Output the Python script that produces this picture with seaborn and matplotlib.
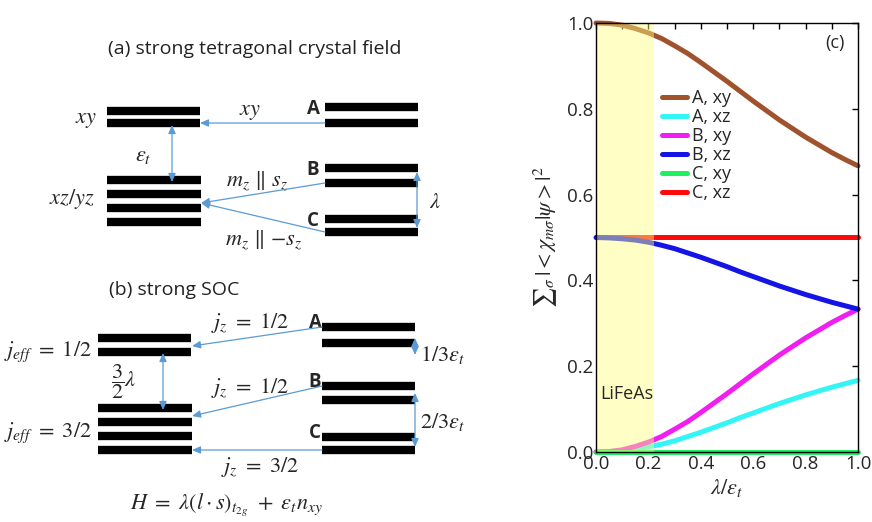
import matplotlib
matplotlib.use('Agg')
import matplotlib.pyplot as plt
import seaborn as sns
import pandas as pd
from matplotlib.ticker import MultipleLocator

# ---------------- data ----------------
lam = [0.0, 0.05, 0.1, 0.15, 0.2, 0.25, 0.3, 0.35, 0.4, 0.45, 0.5,
       0.55, 0.6, 0.65, 0.7, 0.75, 0.8, 0.85, 0.9, 0.95, 1.0]
a_xy = [1.000, 0.999, 0.995, 0.987, 0.977, 0.964, 0.947, 0.929, 0.908, 0.886, 0.864,
        0.841, 0.818, 0.796, 0.774, 0.754, 0.734, 0.716, 0.698, 0.682, 0.667]
a_xz = [0.000, 0.001, 0.003, 0.006, 0.012, 0.018, 0.026, 0.036, 0.046, 0.057, 0.068,
        0.080, 0.091, 0.102, 0.113, 0.123, 0.133, 0.142, 0.151, 0.159, 0.167]
b_xy = [0.000, 0.001, 0.005, 0.013, 0.023, 0.036, 0.053, 0.071, 0.092, 0.114, 0.136,
        0.159, 0.182, 0.204, 0.226, 0.246, 0.266, 0.284, 0.302, 0.318, 0.333]
b_xz = [0.500, 0.499, 0.497, 0.494, 0.489, 0.482, 0.474, 0.464, 0.454, 0.443, 0.432,
        0.420, 0.409, 0.398, 0.387, 0.377, 0.367, 0.358, 0.349, 0.341, 0.333]
c_xy = [0.0, 0.0, 0.0, 0.0, 0.0, 0.0, 0.0, 0.0, 0.0, 0.0, 0.0,
        0.0, 0.0, 0.0, 0.0, 0.0, 0.0, 0.0, 0.0, 0.0, 0.0]
c_xz = [0.5, 0.5, 0.5, 0.5, 0.5, 0.5, 0.5, 0.5, 0.5, 0.5, 0.5,
        0.5, 0.5, 0.5, 0.5, 0.5, 0.5, 0.5, 0.5, 0.5, 0.5]
series_names = ['A, xy', 'A, xz', 'B, xy', 'B, xz', 'C, xy', 'C, xz']
series_vals = [a_xy, a_xz, b_xy, b_xz, c_xy, c_xz]
series_colors = ['#a0522d', '#33f5f5', '#f01ef0', '#1414e6', '#1ef060', '#ff0a0a']
series_z = [3, 3, 3, 4, 3, 2]
lifeas_span = [0.0, 0.22]
x_ticks = [0.0, 0.2, 0.4, 0.6, 0.8, 1.0]
y_ticks = [0.0, 0.2, 0.4, 0.6, 0.8, 1.0]
tick_labels = ['0.0', '0.2', '0.4', '0.6', '0.8', '1.0']

# ---------------- schematic geometry (pixel coordinates) ----------------
a_left_top = [111, 123]
a_left_bot = [180, 194, 208, 222]
a_right = {'A': [107, 123], 'B': [168, 183], 'C': [219, 232]}
b_left_top = [338, 352]
b_left_bot = [408, 422, 436, 450]
b_right = {'A': [327, 343], 'B': [386, 400], 'C': [437, 450]}

sns.set_theme(style='white')
plt.rcParams['font.family'] = ['Open Sans', 'DejaVu Sans']
plt.rcParams['mathtext.fontset'] = 'stix'

fig = plt.figure(figsize=(8.72, 5.22), dpi=100)

# ---------- schematic ----------
ax0 = fig.add_axes([0, 0, 1, 1])
ax0.set_xlim(0, 872)
ax0.set_ylim(522, 0)
ax0.axis('off')
ax0.patch.set_visible(False)

BAR = 6.0
ac = '#5b9bd5'
MF = 16  # math font size
LF = 13.5  # bold letter size

def bars(ys, x0, x1):
    ax0.hlines(ys, x0, x1, colors='black', linewidth=BAR)

def arrow(p_from, p_to, double=False):
    ax0.annotate('', xy=p_to, xytext=p_from,
                 arrowprops=dict(arrowstyle=('<|-|>' if double else '-|>') + ',head_length=0.5,head_width=0.22',
                                 color=ac, lw=0.9, shrinkA=0, shrinkB=0, mutation_scale=10))

# panel (a)
ax0.text(255, 49, '(a) strong tetragonal crystal field', ha='center', va='center', fontsize=14, color='#222222')
bars(a_left_top, 107, 200)
bars(a_left_bot, 107, 201)
for k, ys in a_right.items():
    bars(ys, 325, 418)
    ax0.text(313, ys[0] + 2, k, ha='center', va='center', fontsize=LF, fontweight='bold')
ax0.text(86, 119, '$xy$', ha='center', va='center', fontsize=MF)
ax0.text(250, 112, '$xy$', ha='center', va='center', fontsize=MF)
ax0.text(143, 156, r'$\epsilon_t$', ha='center', va='center', fontsize=MF)
ax0.text(72, 199, '$xz/yz$', ha='center', va='center', fontsize=MF)
ax0.text(257, 181, r'$m_z\ \Vert\ s_z$', ha='center', va='center', fontsize=MF)
ax0.text(264, 240, r'$m_z\ \Vert\ {-s_z}$', ha='center', va='center', fontsize=MF)
ax0.text(435, 202, r'$\lambda$', ha='center', va='center', fontsize=MF)
arrow((325, 123), (200, 123))
arrow((172, 125), (172, 182), double=True)
arrow((325, 183), (201, 203))
arrow((325, 232), (201, 203))
arrow((417, 172), (417, 228), double=True)

# panel (b)
ax0.text(174, 290, '(b) strong SOC', ha='center', va='center', fontsize=14, color='#222222')
bars(b_left_top, 98, 191)
bars(b_left_bot, 98, 192)
for k, ys in b_right.items():
    bars(ys, 322, 415)
    ax0.text(315, ys[0] - 4, k, ha='center', va='center', fontsize=LF, fontweight='bold')
ax0.text(92, 352, r'$j_{eff}\ =\ 1/2$', ha='right', va='center', fontsize=MF)
ax0.text(92, 433, r'$j_{eff}\ =\ 3/2$', ha='right', va='center', fontsize=MF)
ax0.text(250, 323, r'$j_z\ =\ 1/2$', ha='center', va='center', fontsize=MF)
ax0.text(250, 388, r'$j_z\ =\ 1/2$', ha='center', va='center', fontsize=MF)
ax0.text(260, 467, r'$j_z\ =\ 3/2$', ha='center', va='center', fontsize=MF)
ax0.text(124, 382, r'$\dfrac{3}{2}\lambda$', ha='center', va='center', fontsize=MF)
ax0.text(420, 355, r'$1/3\epsilon_t$', ha='left', va='center', fontsize=MF)
ax0.text(420, 422, r'$2/3\epsilon_t$', ha='left', va='center', fontsize=MF)
ax0.text(226, 505, r'$H\ =\ \lambda(l\cdot s)_{t_{2g}}\ +\ \epsilon_t n_{xy}$', ha='center', va='center', fontsize=MF)
arrow((322, 327), (192, 346))
arrow((322, 386), (192, 416))
arrow((322, 450), (192, 450))
arrow((163, 353), (163, 410), double=True)
arrow((415, 338), (415, 355), double=True)
arrow((415, 393), (415, 447), double=True)

# ---------- plot (c) ----------
ax = fig.add_axes([596 / 872, 70 / 522, 262 / 872, 429 / 522])
for name, vals, col, z in zip(series_names, series_vals, series_colors, series_z):
    df = pd.DataFrame({'lam': lam, 'w': vals})
    sns.lineplot(data=df, x='lam', y='w', color=col, linewidth=3.6, label=name,
                 ax=ax, zorder=z, clip_on=False)
ax.axvspan(lifeas_span[0], lifeas_span[1], color='#ffff80', alpha=0.45, zorder=6, lw=0)
ax.set_xlim(0, 1)
ax.set_ylim(0, 1)
ax.set_xticks(x_ticks)
ax.set_yticks(y_ticks)
ax.xaxis.set_minor_locator(MultipleLocator(0.1))
ax.tick_params(which='both', direction='in', top=True, right=True, length=4, width=1,
               color='black', labelsize=13.5, pad=2)
ax.set_xticklabels(tick_labels)
ax.set_yticklabels(tick_labels)
for s in ax.spines.values():
    s.set_color('black')
    s.set_linewidth(1)
    s.set_zorder(10)
ax.set_xlabel(r'$\lambda/\epsilon_t$', fontsize=16, labelpad=3)
ax.set_ylabel(r'${\sum}_\sigma\,|<\chi_{m\sigma}|\psi>|^2$', fontsize=16, labelpad=6)
ax.text(0.015, 0.135, 'LiFeAs', transform=ax.transAxes, ha='left', va='center', fontsize=13, zorder=7)
ax.text(0.912, 0.953, '(c)', transform=ax.transAxes, ha='center', va='center', fontsize=13, zorder=7)
ax.legend(loc='upper left', bbox_to_anchor=(0.25, 0.845), frameon=False, fontsize=13,
          handlelength=1.4, handletextpad=0.3, labelspacing=0.05, borderpad=0, borderaxespad=0)

fig.savefig('out.png', dpi=100)
